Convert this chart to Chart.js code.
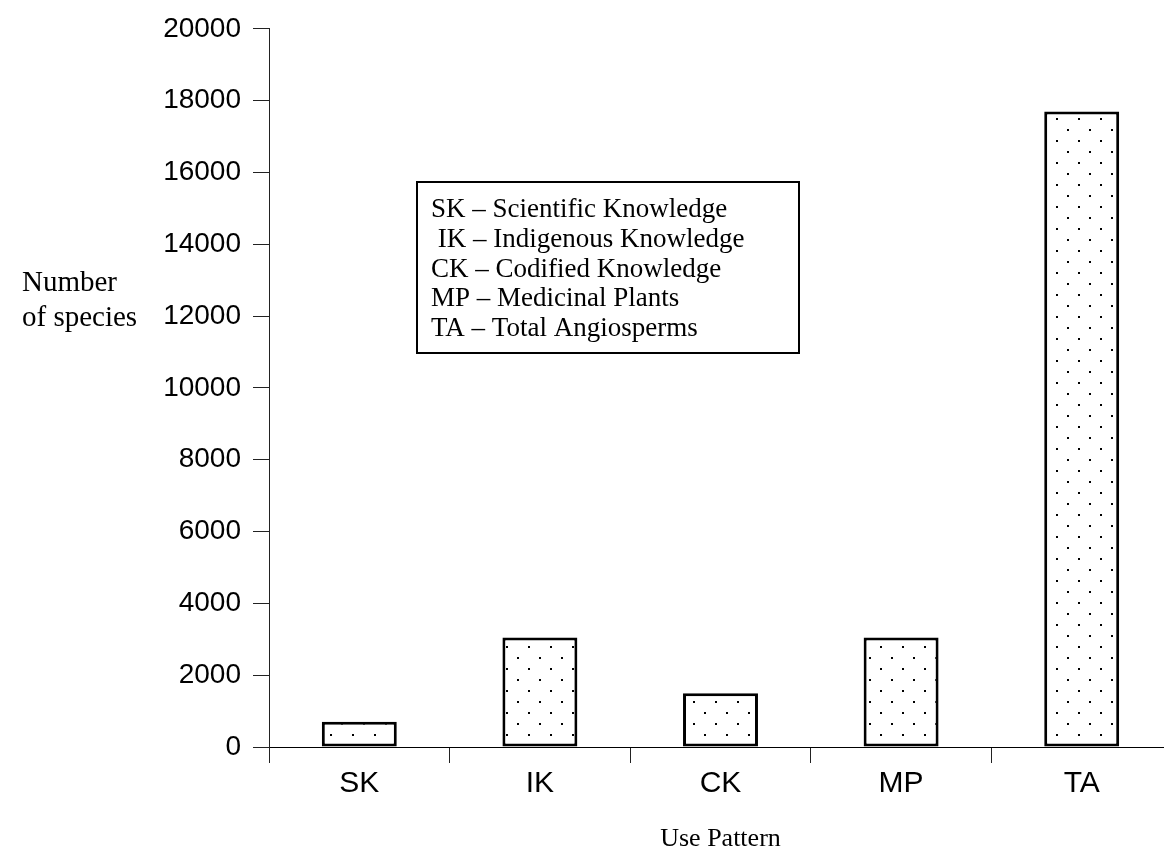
<!DOCTYPE html>
<html>
<head>
<meta charset="utf-8">
<script src="https://cdn.jsdelivr.net/npm/chart.js@4.4.1/dist/chart.umd.min.js"></script>
<style>
    html, body { margin: 0; padding: 0; background: #fff; overflow: hidden; }
    #wrap { width: 1176px; height: 848px; }
</style>
</head>
<body>
<div id="wrap"><canvas id="chart" width="1176" height="848"></canvas></div>
<script>
// data
const categories = ["SK", "IK", "CK", "MP", "TA"];
const speciesCounts = [700, 3050, 1500, 3050, 17700];
const yMax = 20000;
const yStep = 2000;
const legendLines = [
    "SK \u2013 Scientific Knowledge",
    " IK \u2013 Indigenous Knowledge",
    "CK \u2013 Codified Knowledge",
    "MP \u2013 Medicinal Plants",
    "TA \u2013 Total Angiosperms"
];
const xTitle = "Use Pattern";
const yTitleLines = ["Number", "of species"];

const SANS = "'Liberation Sans', Arial, sans-serif";
const SERIF = "'Liberation Serif', 'Times New Roman', serif";

// dotted fill like the old excel pattern
function dotPattern() {
    const tile = document.createElement("canvas");
    tile.width = 22;
    tile.height = 22;
    const t = tile.getContext("2d");
    t.fillStyle = "#fff";
    t.fillRect(0, 0, 22, 22);
    t.fillStyle = "#000";
    t.fillRect(0, 8, 2, 2);
    t.fillRect(11, 19, 2, 2);
    return t.createPattern(tile, "repeat");
}

// key box + horizontal y title
const notesPlugin = {
    id: "notes",
    afterDraw(chart) {
        const ctx = chart.ctx;
        ctx.save();
        ctx.strokeStyle = "#000";
        ctx.lineWidth = 2;
        ctx.strokeRect(417, 182, 382, 171);

        ctx.fillStyle = "#000";
        ctx.textBaseline = "middle";
        ctx.textAlign = "left";
        ctx.font = "27px " + SERIF;
        legendLines.forEach((line, i) => {
            ctx.fillText(line, 431, 210 + i * 29.8);
        });

        ctx.font = "29px " + SERIF;
        yTitleLines.forEach((line, i) => {
            ctx.fillText(line, 22, 283 + i * 35);
        });
        ctx.restore();
    }
};

new Chart(document.getElementById("chart"), {
    type: "bar",
    data: {
        labels: categories,
        datasets: [{
            label: "Number of species",
            data: speciesCounts,
            backgroundColor: dotPattern(),
            borderColor: "#000",
            borderWidth: 3,
            borderSkipped: false,
            categoryPercentage: 1,
            barPercentage: 0.415
        }]
    },
    options: {
        responsive: false,
        animation: false,
        devicePixelRatio: 1,
        layout: { padding: { top: 27, right: 4, left: 0, bottom: 0 } },
        plugins: {
            legend: { display: false },
            tooltip: { enabled: false }
        },
        scales: {
            x: {
                grid: {
                    offset: true,
                    drawOnChartArea: false,
                    drawTicks: true,
                    tickLength: 16,
                    color: "#222",
                    lineWidth: 1
                },
                border: { display: true, color: "#000", width: 1 },
                ticks: {
                    color: "#000",
                    font: { family: SANS, size: 30 },
                    padding: 3
                },
                title: {
                    display: true,
                    text: xTitle,
                    color: "#000",
                    font: { family: SERIF, size: 26, lineHeight: 1 },
                    padding: { top: 0, bottom: -4 }
                },
                afterFit(scale) { scale.height = 101; }
            },
            y: {
                min: 0,
                max: yMax,
                grid: {
                    drawOnChartArea: false,
                    drawTicks: true,
                    tickLength: 16,
                    color: "#222",
                    lineWidth: 1
                },
                border: { display: true, color: "#222", width: 1 },
                ticks: {
                    stepSize: yStep,
                    color: "#000",
                    font: { family: SANS, size: 28 },
                    padding: 12,
                    callback: v => String(v)
                },
                afterFit(scale) { scale.width = 269; }
            }
        }
    },
    plugins: [notesPlugin]
});
</script>
</body>
</html>
